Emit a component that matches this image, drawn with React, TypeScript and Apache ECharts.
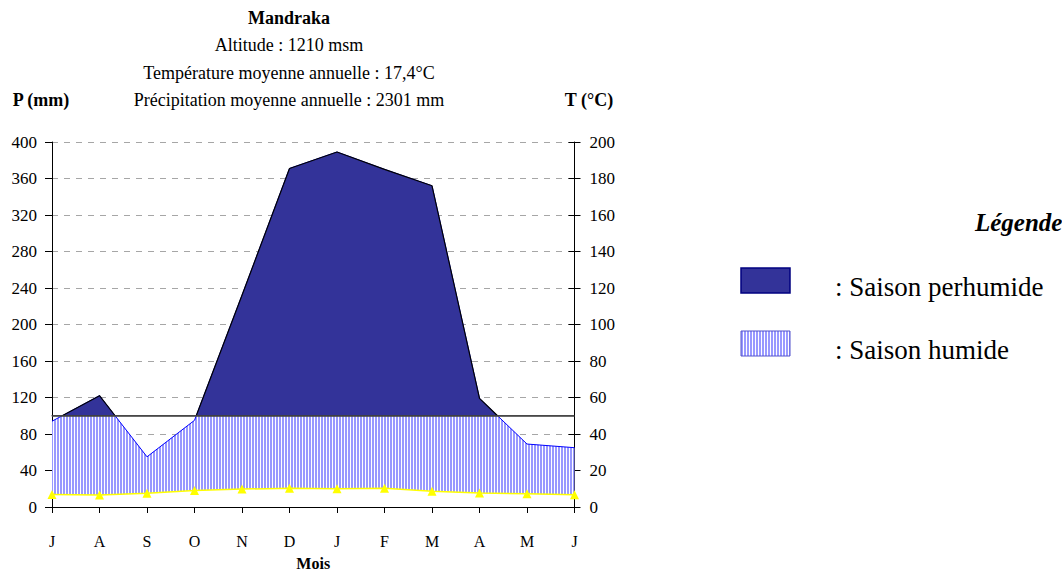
import React, { useEffect, useRef } from 'react';
import * as echarts from 'echarts';

// ---- data ----
const months = ['J', 'A', 'S', 'O', 'N', 'D', 'J', 'F', 'M', 'A', 'M', 'J'];
const precipitation = [94, 122, 55, 95, 232, 371, 389, 370, 352, 119, 69, 65]; // mm
const temperature = [6.8, 6.6, 7.5, 9.0, 9.8, 10.3, 10.0, 10.3, 8.6, 7.7, 7.2, 6.7]; // right-axis units
const P_MAX = 400;
const P_INTERVAL = 40;
const T_MAX = 200;
const T_INTERVAL = 20;
const THRESHOLD = 100; // perhumid limit (mm)

const titleLines = [
  'Mandraka',
  'Altitude : 1210 msm',
  'Température moyenne annuelle : 17,4°C',
  'Précipitation moyenne annuelle : 2301 mm',
];
const legendTitle = 'Légende';
const legendItems = [': Saison perhumide', ': Saison humide'];

const FONT = '"Liberation Serif", "Times New Roman", serif';
const DARK = '#333399';

const hatchSvg =
  '<svg xmlns="http://www.w3.org/2000/svg" width="3" height="4">' +
  '<rect width="3" height="4" fill="#ffffff"/><rect width="2" height="4" fill="#9999ff"/></svg>';
const hatchFill: any = {
  image: 'data:image/svg+xml;charset=utf-8,' + encodeURIComponent(hatchSvg),
  repeat: 'repeat',
  imageWidth: 3,
  imageHeight: 4,
};

// clip a polygon against a horizontal line (pixel space)
function clipHalf(pts: number[][], yLine: number, keepBelow: boolean): number[][] {
  const inside = (p: number[]) => (keepBelow ? p[1] >= yLine - 1e-9 : p[1] <= yLine + 1e-9);
  const inter = (a: number[], b: number[]) => {
    const t = (yLine - a[1]) / (b[1] - a[1]);
    return [a[0] + t * (b[0] - a[0]), yLine];
  };
  const out: number[][] = [];
  for (let i = 0; i < pts.length; i++) {
    const cur = pts[i];
    const prev = pts[(i + pts.length - 1) % pts.length];
    const ci = inside(cur);
    const pi = inside(prev);
    if (ci) {
      if (!pi) out.push(inter(prev, cur));
      out.push(cur);
    } else if (pi) {
      out.push(inter(prev, cur));
    }
  }
  return out;
}

export default function App() {
  const ref = useRef<HTMLDivElement>(null);

  useEffect(() => {
    if (!ref.current) return;
    const chart = echarts.init(ref.current, null, { renderer: 'svg' });
    const ratio = P_MAX / T_MAX;

    const option: any = {
      animation: false,
      backgroundColor: '#ffffff',
      textStyle: { fontFamily: FONT },
      grid: { left: 52, right: 487.5, top: 142, bottom: 66, outerBoundsMode: 'none', containLabel: false },
      xAxis: {
        type: 'category',
        data: months,
        boundaryGap: false,
        z: 10,
        axisLine: { lineStyle: { color: '#000', width: 1 } },
        axisTick: { length: 6, lineStyle: { color: '#000' } },
        axisLabel: { color: '#000', fontSize: 16, margin: 26, fontFamily: FONT },
        name: 'Mois',
        nameLocation: 'middle',
        nameGap: 48,
        nameTextStyle: { color: '#000', fontSize: 16, fontWeight: 'bold', fontFamily: FONT },
      },
      yAxis: [
        {
          type: 'value',
          position: 'left',
          min: 0,
          max: P_MAX,
          interval: P_INTERVAL,
          axisLine: { show: true, lineStyle: { color: '#000' } },
          axisTick: { show: true, length: 7, lineStyle: { color: '#000' } },
          axisLabel: { color: '#000', fontSize: 17, margin: 15, fontFamily: FONT },
          splitLine: { show: true, lineStyle: { color: '#a6a6a6', type: [6, 6], width: 1 } },
        },
        {
          type: 'value',
          position: 'right',
          min: 0,
          max: T_MAX,
          interval: T_INTERVAL,
          axisLine: { show: true, lineStyle: { color: '#000' } },
          axisTick: { show: true, length: 6, lineStyle: { color: '#000' } },
          axisLabel: { color: '#000', fontSize: 17, margin: 15, fontFamily: FONT },
          splitLine: { show: false },
        },
        {
          type: 'value',
          position: 'right',
          min: 0,
          max: T_MAX,
          interval: T_INTERVAL,
          axisLine: { show: false },
          axisTick: { show: true, inside: true, length: 6, lineStyle: { color: '#000' } },
          axisLabel: { show: false },
          splitLine: { show: false },
        },
      ],
      series: [
        {
          name: 'Saison humide',
          type: 'custom',
          yAxisIndex: 0,
          z: 2,
          silent: true,
          data: [[0, 0]],
          renderItem: (params: any, api: any) => {
            const pPts = precipitation.map((v, i) => api.coord([i, v]));
            const tPts = temperature.map((v, i) => api.coord([i, v * ratio])).reverse();
            const y100 = api.coord([0, THRESHOLD])[1];
            const poly = clipHalf([...pPts, ...tPts], y100, true);
            return {
              type: 'polygon',
              shape: { points: poly },
              style: { fill: hatchFill, stroke: null },
            };
          },
        },
        {
          name: 'P',
          type: 'line',
          yAxisIndex: 0,
          z: 3,
          data: precipitation,
          showSymbol: false,
          symbol: 'none',
          lineStyle: { color: '#0000ff', width: 1 },
          itemStyle: { color: '#0000ff' },
          markLine: {
            silent: true,
            symbol: ['none', 'none'],
            label: { show: false },
            lineStyle: { color: '#4d4d4d', type: 'solid', width: 1.6 },
            data: [{ yAxis: THRESHOLD }],
          },
        },
        {
          name: 'Saison perhumide',
          type: 'custom',
          yAxisIndex: 0,
          z: 4,
          silent: true,
          data: [[0, 0]],
          renderItem: (params: any, api: any) => {
            const pPts = precipitation.map((v, i) => api.coord([i, v]));
            const y100 = api.coord([0, THRESHOLD])[1];
            const first = pPts[0][0];
            const last = pPts[pPts.length - 1][0];
            const poly = clipHalf([...pPts, [last, y100], [first, y100]], y100, false);
            return {
              type: 'polygon',
              shape: { points: poly },
              style: { fill: DARK, stroke: '#000', lineWidth: 1.2, lineJoin: 'round' },
            };
          },
        },
        {
          name: 'T',
          type: 'line',
          yAxisIndex: 1,
          z: 5,
          data: temperature,
          symbol: 'triangle',
          symbolSize: 9,
          lineStyle: { color: '#ffff00', width: 1.5 },
          itemStyle: { color: '#ffff00' },
        },
      ],
      graphic: [
        ...titleLines.map((t, i) => ({
          type: 'text',
          x: 289,
          y: 18 + i * 27.3,
          style: {
            text: t,
            fill: '#000',
            font: `${i === 0 ? 'bold ' : ''}18px ${FONT}`,
            align: 'center',
            verticalAlign: 'middle',
          },
        })),
        {
          type: 'text',
          x: 41,
          y: 100,
          style: { text: 'P (mm)', fill: '#000', font: `bold 18px ${FONT}`, align: 'center', verticalAlign: 'middle' },
        },
        {
          type: 'text',
          x: 589,
          y: 100,
          style: { text: 'T (°C)', fill: '#000', font: `bold 18px ${FONT}`, align: 'center', verticalAlign: 'middle' },
        },
        {
          type: 'text',
          x: 975,
          y: 222,
          style: { text: legendTitle, fill: '#000', font: `italic bold 25px ${FONT}`, align: 'left', verticalAlign: 'middle' },
        },
        {
          type: 'rect',
          shape: { x: 741, y: 268, width: 49, height: 25 },
          style: { fill: DARK, stroke: '#000080', lineWidth: 1.5 },
        },
        {
          type: 'rect',
          shape: { x: 741, y: 331, width: 49, height: 25 },
          style: { fill: hatchFill, stroke: '#5555cc', lineWidth: 1 },
        },
        ...legendItems.map((t, i) => ({
          type: 'text',
          x: 835,
          y: 287 + i * 63,
          style: { text: t, fill: '#000', font: `27px ${FONT}`, align: 'left', verticalAlign: 'middle' },
        })),
      ],
    };

    chart.setOption(option);
    return () => chart.dispose();
  }, []);

  return (
    <div
      ref={ref}
      style={{ position: 'fixed', left: 0, top: 0, width: 1062, height: 573, background: '#fff' }}
    />
  );
}
